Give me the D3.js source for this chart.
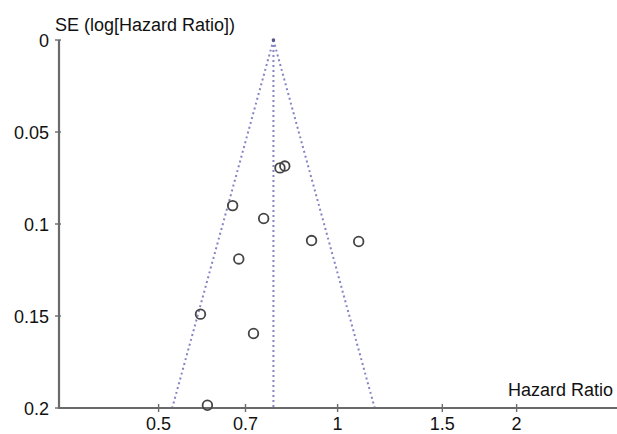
<!DOCTYPE html>
<html>
<head>
<meta charset="utf-8">
<script src="https://cdn.jsdelivr.net/npm/d3@7"></script>
<style>
  body { margin: 0; background: #fff; }
  text { font-family: "Liberation Sans", Arial, sans-serif; fill: #111; }
</style>
</head>
<body>
<div id="chart"></div>
<script>
// study estimates
const hazardRatios = [0.80, 0.815, 0.666, 0.751, 0.904, 1.085, 0.682, 0.588, 0.722, 0.604];
const standardErrors = [0.0695, 0.0685, 0.0900, 0.0970, 0.1090, 0.1095, 0.1190, 0.1490, 0.1595, 0.1985];
const pooledHR = 0.78;
const xTicks = [0.5, 0.7, 1, 1.5, 2];
const yTicks = [0, 0.05, 0.1, 0.15, 0.2];

const width = 617;
const height = 434;
const margin = {top: 40, right: 0, bottom: 26, left: 59};

const svg = d3.select('#chart').append('svg')
    .attr('width', width)
    .attr('height', height);

const x = d3.scaleLog()
    .domain([0.34, 2.95])
    .range([margin.left, width - margin.right]);

const y = d3.scaleLinear()
    .domain([0, 0.2])
    .range([margin.top, height - margin.bottom]);

// funnel (95% pseudo confidence limits) + pooled line
const seMax = 0.2;
const funnelColor = '#8484c4';
const lines = [
    [[pooledHR, 0], [pooledHR * Math.exp(-1.96 * seMax), seMax]],
    [[pooledHR, 0], [pooledHR * Math.exp(1.96 * seMax), seMax]],
    [[pooledHR, 0], [pooledHR, seMax]]
];
const line = d3.line().x(d => x(d[0])).y(d => y(d[1]));
svg.selectAll('path.funnel')
    .data(lines)
    .enter()
    .append('path')
    .attr('class', 'funnel')
    .attr('d', line)
    .attr('fill', 'none')
    .attr('stroke', funnelColor)
    .attr('stroke-width', 2)
    .attr('stroke-dasharray', '2,3');

// axes
const axisColor = '#6a6a6a';
const yAxisX = margin.left;
const xAxisY = y(0.2);

svg.append('line')
    .attr('x1', yAxisX).attr('x2', yAxisX)
    .attr('y1', y(0)).attr('y2', xAxisY)
    .attr('stroke', axisColor).attr('stroke-width', 2.2);

svg.append('line')
    .attr('x1', yAxisX - 1).attr('x2', width)
    .attr('y1', xAxisY).attr('y2', xAxisY)
    .attr('stroke', axisColor).attr('stroke-width', 2.2);

svg.selectAll('line.ytick')
    .data(yTicks)
    .enter()
    .append('line')
    .attr('class', 'ytick')
    .attr('x1', yAxisX - 4).attr('x2', yAxisX + 2)
    .attr('y1', d => y(d)).attr('y2', d => y(d))
    .attr('stroke', axisColor).attr('stroke-width', 1.4);

svg.selectAll('text.ylab')
    .data(yTicks)
    .enter()
    .append('text')
    .attr('class', 'ylab')
    .attr('x', 49)
    .attr('y', d => y(d) + 6.5)
    .attr('text-anchor', 'end')
    .attr('font-size', 18)
    .text(d => d);

svg.selectAll('line.xtick')
    .data(xTicks)
    .enter()
    .append('line')
    .attr('class', 'xtick')
    .attr('x1', d => x(d)).attr('x2', d => x(d))
    .attr('y1', xAxisY - 4).attr('y2', xAxisY + 4)
    .attr('stroke', axisColor).attr('stroke-width', 1.4);

svg.selectAll('text.xlab')
    .data(xTicks)
    .enter()
    .append('text')
    .attr('class', 'xlab')
    .attr('x', d => x(d))
    .attr('y', 429.5)
    .attr('text-anchor', 'middle')
    .attr('font-size', 18)
    .text(d => d);

svg.append('text')
    .attr('x', 55)
    .attr('y', 31)
    .attr('font-size', 18)
    .text('SE (log[Hazard Ratio])');

svg.append('text')
    .attr('x', 613)
    .attr('y', 396)
    .attr('text-anchor', 'end')
    .attr('font-size', 18)
    .text('Hazard Ratio');

// apex dot
svg.append('circle')
    .attr('cx', x(pooledHR))
    .attr('cy', y(0))
    .attr('r', 1.8)
    .attr('fill', '#55558a');

// studies
svg.selectAll('circle.study')
    .data(hazardRatios.map((hr, i) => ({hr, se: standardErrors[i]})))
    .enter()
    .append('circle')
    .attr('class', 'study')
    .attr('cx', d => x(d.hr))
    .attr('cy', d => y(d.se))
    .attr('r', 4.8)
    .attr('fill', 'none')
    .attr('stroke', '#444')
    .attr('stroke-width', 1.8);
</script>
</body>
</html>
